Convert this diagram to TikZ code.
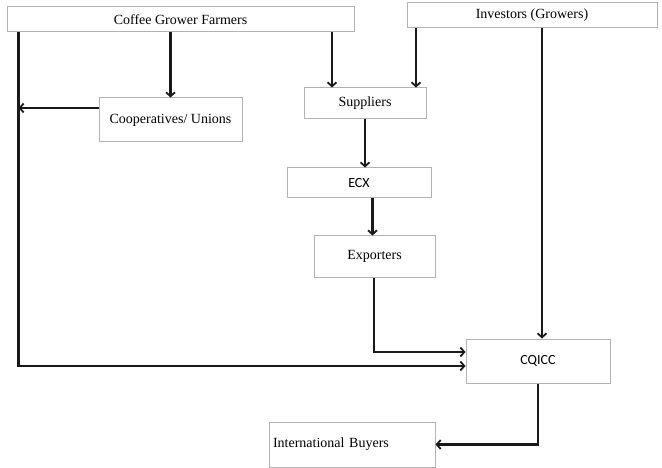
\documentclass[tikz,border=0pt]{standalone}
\usepackage{fontspec}
\setmainfont{Liberation Serif}
\newfontfamily\calfont{Carlito}
\usetikzlibrary{arrows.meta}
\tikzset{
  box/.style={draw=black!30, line width=1pt, fill=white, inner sep=0pt, font=\fontsize{14pt}{16pt}\selectfont},
  arr/.style={draw=black!90, line width=2.2pt, -{Straight Barb[length=4pt,width=9pt,line width=1.8pt]}},
  ln/.style={draw=black!90, line width=2.2pt}
}
\begin{document}
\begin{tikzpicture}[x=1pt,y=-1pt]
\useasboundingbox (0,0) rectangle (662,468);
\node[box, minimum width=347pt, minimum height=25pt] (cgf) at (180.5,19.5) {Coffee Grower Farmers};
\node[box, minimum width=250pt, minimum height=25pt] (inv) at (532,15.5) {Investors (Growers)};
\node[box, minimum width=143pt, minimum height=44pt] (coop) at (170.5,120) {Cooperatives/ Unions};
\node[box, minimum width=122pt, minimum height=31pt] (sup) at (365,103.5) {Suppliers};
\node[box, minimum width=144pt, minimum height=30pt, font=\calfont\fontsize{14pt}{16pt}\selectfont] (ecx) at (359,183) {ECX};
\node[box, minimum width=121pt, minimum height=41pt] (exp) at (374.5,256.5) {Exporters};
\node[box, minimum width=144pt, minimum height=44pt, font=\calfont\fontsize{14pt}{16pt}\selectfont] (cq) at (538,361) {CQICC};
\node[box, minimum height=45pt, text width=158pt, inner xsep=4pt, align=left] (ib) at (352,444.5) {International Buyers};

\coordinate (trunk) at ([xshift=12pt]cgf.south west);
\draw[arr] (trunk) |- ([yshift=-5pt]cq.west);
\draw[arr] (cgf.south -| coop.north) -- (coop.north);
\draw[arr] ([yshift=12pt]coop.west) -- ([yshift=12pt]coop.west -| trunk);
\draw[arr] ([xshift=-33pt]sup.north |- cgf.south) -- ([xshift=-33pt]sup.north);
\draw[arr] ([xshift=51pt]sup.north |- inv.south) -- ([xshift=51pt]sup.north);
\draw[arr] (sup.south) -- (sup.south |- ecx.north);
\draw[arr] ([xshift=-2pt]exp.north |- ecx.south) -- ([xshift=-2pt]exp.north);
\draw[arr] ([xshift=-0.5pt]exp.south) |- ([yshift=9pt]cq.west);
\draw[arr] ([xshift=4pt]cq.north |- inv.south) -- ([xshift=4pt]cq.north);
\draw[arr] (cq.south) |- (ib.east);
\end{tikzpicture}
\end{document}
